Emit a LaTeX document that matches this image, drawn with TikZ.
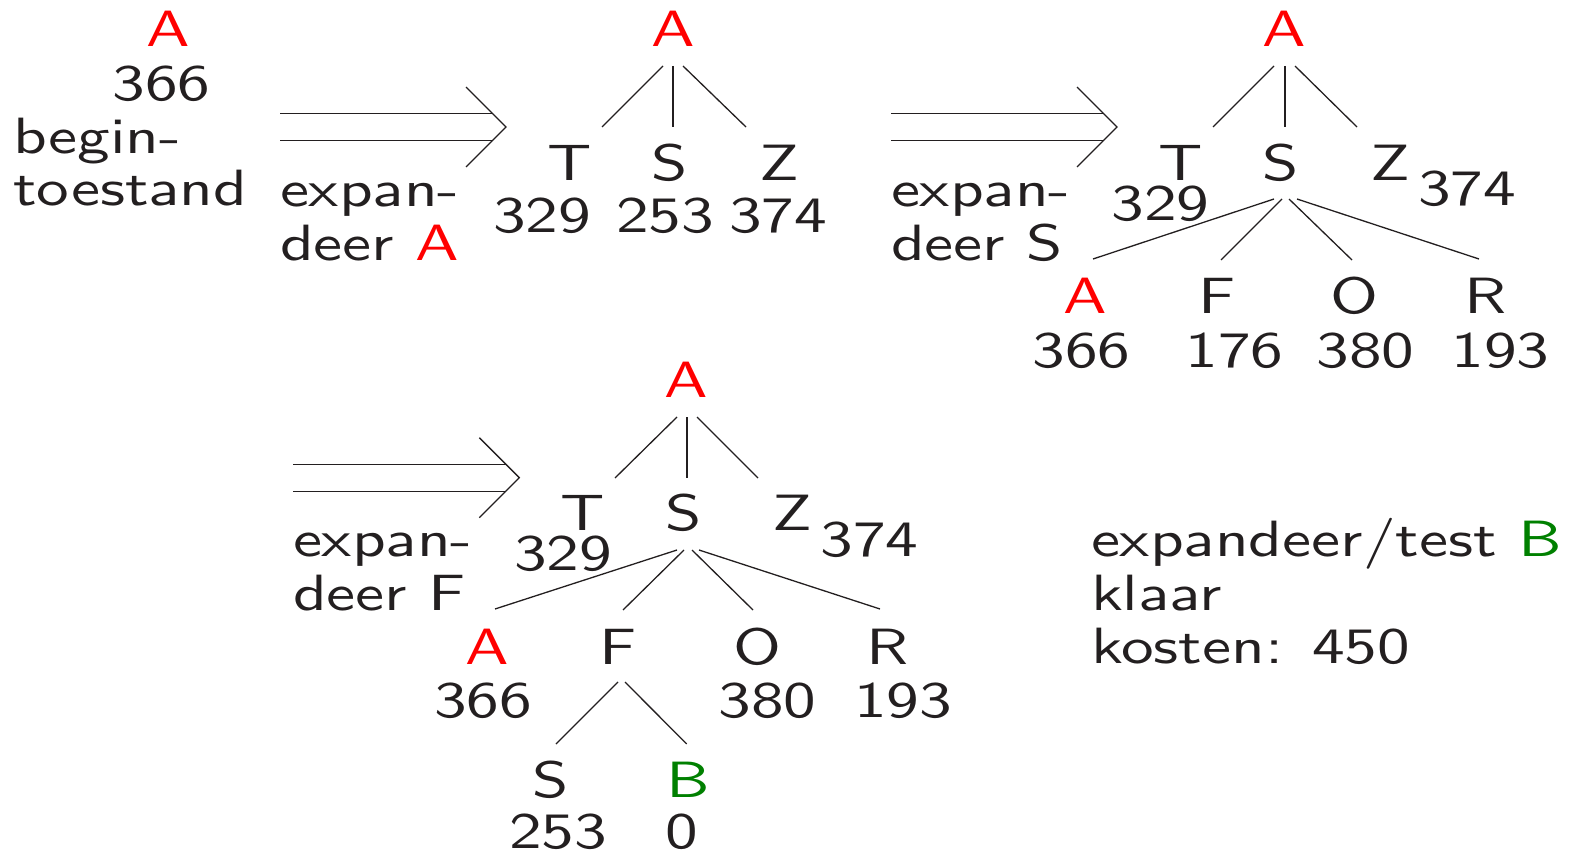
\documentclass[tikz,border=0pt]{standalone}
\usepackage{fontspec}
% broad slide sans: Latin Modern Sans widened
\newfontfamily\wordfont{lmsans10-regular}[Extension=.otf, FakeStretch=1.28]
\newfontfamily\digitfont{lmsans10-regular}[Extension=.otf, FakeStretch=1.28]
\newfontfamily\capfont{lmsans10-regular}[Extension=.otf, FakeStretch=1.28]
\definecolor{ink}{RGB}{35,31,32}
\definecolor{hot}{RGB}{255,0,0}
\definecolor{goal}{RGB}{0,128,0}
\newcommand{\slidesize}{\fontsize{51}{55}\selectfont}

\begin{document}
\begin{tikzpicture}[x=1pt, y=-1pt,
  every node/.style={inner sep=0pt, outer sep=0pt, text=ink},
  lab/.style={anchor=base, font=\slidesize\capfont},
  val/.style={anchor=base, font=\slidesize\digitfont},
  txt/.style={anchor=base west, font=\slidesize\wordfont},
  startnode/.style={lab, text=hot},
  goalnode/.style={lab, text=goal},
  edge/.style={draw=ink, line width=1.3pt},
  implies/.pic={
    \draw[edge] (-226,-13.5) -- (-13.5,-13.5) (-226,13.5) -- (-13.5,13.5);
    \draw[edge] (-40,-40) -- (0,0) -- (-40,40);
  }]
\useasboundingbox (0,0) rectangle (1569,851);

% start state
\node[startnode] (s0A) at (168.5,47) {A};
\node[val] (s0v) at (161.5,100) {366};
\node[txt] (s0t1) at (13,153) {begin-};
\node[txt] (s0t2) at (13,205) {toestand};

% step 1: expand A
\pic at (506,127) {implies};
\node[txt] (e1a) at (280,206) {expan-};
\node[txt] (e1b) at (280,260) {deer {\color{hot}A}};

\node[startnode] (t1A) at (673.5,47) {A};
\node[lab] (t1T) at (570,180) {T};
\node[lab] (t1S) at (670,180) {S};
\node[lab] (t1Z) at (779,180) {Z};
\node[val] (t1Tv) at (542,232) {329};
\node[val] (t1Sv) at (665,232) {253};
\node[val] (t1Zv) at (778,232) {374};
\draw[edge] ([shift={(-10.5,19)}]t1A.base) -- ([shift={(32,-53)}]t1T.base);
\draw[edge] ([shift={(-0.5,19)}]t1A.base) -- ([shift={(3,-53)}]t1S.base);
\draw[edge] ([shift={(9.5,19)}]t1A.base) -- ([shift={(-33,-53)}]t1Z.base);

% step 2: expand S
\pic at (1117,127) {implies};
\node[txt] (e2a) at (891,206) {expan-};
\node[txt] (e2b) at (891,260) {deer S};

\node[startnode] (t2A) at (1284.5,47) {A};
\node[lab] (t2T) at (1180.5,180) {T};
\node[lab] (t2S) at (1281,180) {S};
\node[lab] (t2Z) at (1390,180) {Z};
\node[val] (t2Tv) at (1160.5,220) {329};
\node[val] (t2Zv) at (1467,205) {374};
\draw[edge] ([shift={(-10.5,19)}]t2A.base) -- ([shift={(32.5,-53)}]t2T.base);
\draw[edge] ([shift={(0.5,19)}]t2A.base) -- ([shift={(4,-53)}]t2S.base);
\draw[edge] ([shift={(10.5,19)}]t2A.base) -- ([shift={(-33,-53)}]t2Z.base);

\node[startnode] (t2SA) at (1085,313.5) {A};
\node[lab] (t2SF) at (1217,313.5) {F};
\node[lab] (t2SO) at (1354.7,313.5) {O};
\node[lab] (t2SR) at (1485.5,313.5) {R};
\node[val] (t2SAv) at (1081.6,367) {366};
\node[val] (t2SFv) at (1234.5,367) {176};
\node[val] (t2SOv) at (1365.5,367) {380};
\node[val] (t2SRv) at (1500.5,367) {193};
\draw[edge] ([shift={(-7,19)}]t2S.base) -- ([shift={(8,-54.5)}]t2SA.base);
\draw[edge] ([shift={(1,19)}]t2S.base) -- ([shift={(4,-53.5)}]t2SF.base);
\draw[edge] ([shift={(8,19)}]t2S.base) -- ([shift={(-2.7,-53.5)}]t2SO.base);
\draw[edge] ([shift={(16,19)}]t2S.base) -- ([shift={(-6.5,-54.5)}]t2SR.base);

% step 3: expand F
\pic at (519.3,477.7) {implies};
\node[txt] (e3a) at (293,556.7) {expan-};
\node[txt] (e3b) at (293,610) {deer F};

\node[startnode] (t3A) at (686.5,397) {A};
\node[lab] (t3T) at (583,530) {T};
\node[lab] (t3S) at (683.5,530) {S};
\node[lab] (t3Z) at (792,530) {Z};
\node[val] (t3Tv) at (563,570.7) {329};
\node[val] (t3Zv) at (869.5,556.7) {374};
\draw[edge] ([shift={(-9.5,20)}]t3A.base) -- ([shift={(32,-52)}]t3T.base);
\draw[edge] ([shift={(0.5,20)}]t3A.base) -- ([shift={(3.5,-52)}]t3S.base);
\draw[edge] ([shift={(10.5,20)}]t3A.base) -- ([shift={(-34,-52)}]t3Z.base);

\node[startnode] (t3SA) at (487.7,664) {A};
\node[lab] (t3SF) at (618,664) {F};
\node[lab] (t3SO) at (757.5,664) {O};
\node[lab] (t3SR) at (888,664) {R};
\node[val] (t3SAv) at (483.3,717) {366};
\node[val] (t3SOv) at (767.5,717) {380};
\node[val] (t3SRv) at (903,717) {193};
\draw[edge] ([shift={(-6.5,20)}]t3S.base) -- ([shift={(7.3,-55)}]t3SA.base);
\draw[edge] ([shift={(0.5,20)}]t3S.base) -- ([shift={(5,-54)}]t3SF.base);
\draw[edge] ([shift={(8.5,20)}]t3S.base) -- ([shift={(-4.5,-54)}]t3SO.base);
\draw[edge] ([shift={(15.5,20)}]t3S.base) -- ([shift={(-8,-55)}]t3SR.base);

\node[lab] (t3FS) at (551,797) {S};
\node[goalnode] (t3FB) at (688,797) {B};
\node[val] (t3FSv) at (558,848.5) {253};
\node[val] (t3FBv) at (682,848.5) {0};
\draw[edge] ([shift={(0,18)}]t3SF.base) -- ([shift={(5,-53)}]t3FS.base);
\draw[edge] ([shift={(7,18)}]t3SF.base) -- ([shift={(-1.3,-53)}]t3FB.base);

% outcome
\node[txt] (r1) at (1091,556.7) {expandeer/test {\color{goal}B}};
\node[txt] (r2) at (1091,610) {klaar};
\node[txt] (r3) at (1091,663.3) {kosten: {\digitfont 450}};
\end{tikzpicture}
\end{document}
